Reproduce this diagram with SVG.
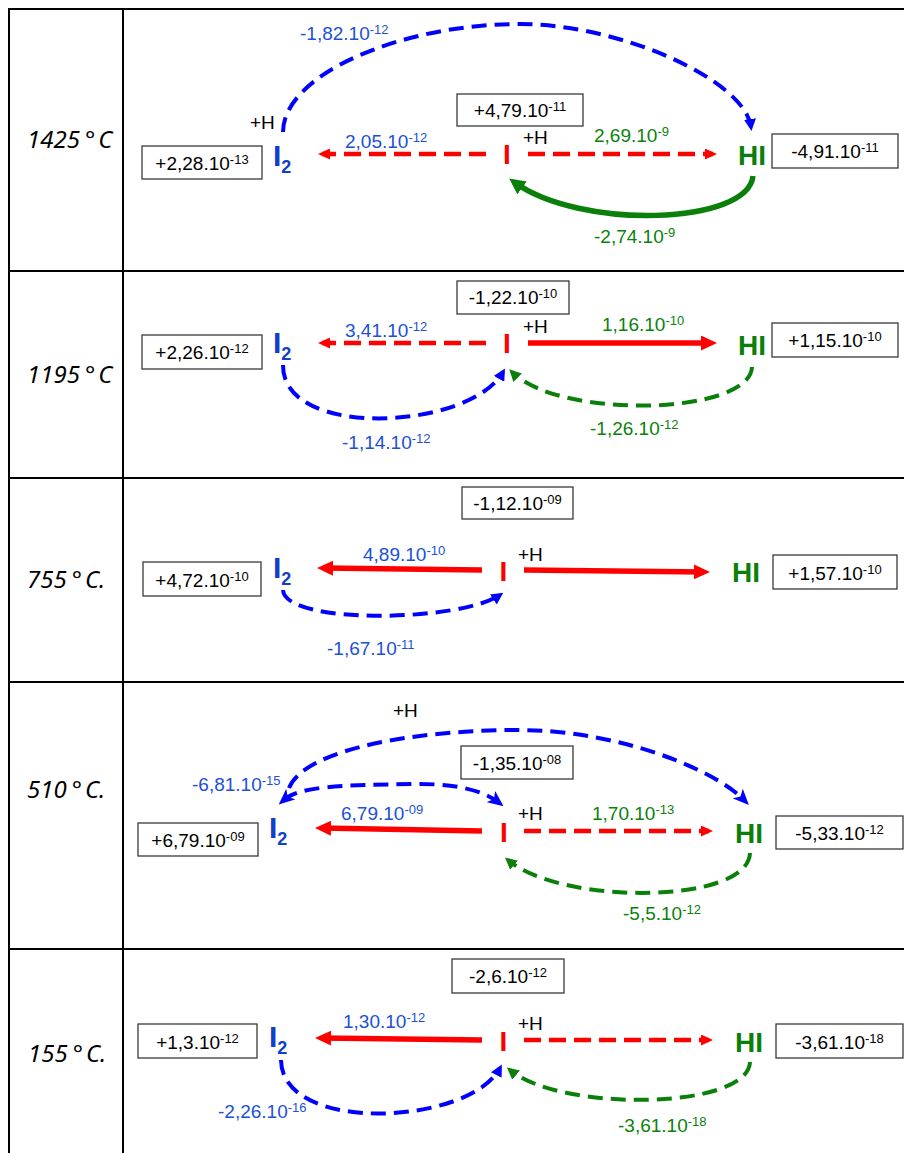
<svg xmlns="http://www.w3.org/2000/svg" width="904" height="1153" viewBox="0 0 904 1153">
<style>
.t{font-family:"Liberation Sans",Arial,sans-serif;font-size:19px}
.s{font-size:13px}
.temp{font-family:"Noto Sans","Open Sans",sans-serif;font-style:italic;font-size:24px;fill:#000}
.box{fill:#fff;stroke:#3a3a3a;stroke-width:1.3}
.blk{fill:#000}
.bl{fill:#2050d8}
.gr{fill:#0a820a}
.i2{font-family:"Liberation Sans",Arial,sans-serif;font-weight:bold;font-size:30px;fill:#1040c8}
.sub{font-size:18px}
.hi{font-family:"Liberation Sans",Arial,sans-serif;font-weight:bold;font-size:28px;fill:#0a800a}
.ri{font-family:"Liberation Sans",Arial,sans-serif;font-weight:bold;font-size:28px;fill:#ff0000}
.grid{stroke:#000;stroke-width:2;fill:none}
.bd{fill:none;stroke:#0000ff;stroke-width:4;stroke-dasharray:15 8}
.gd{fill:none;stroke:#0a800a;stroke-width:4;stroke-dasharray:15 8}
.gs{fill:none;stroke:#0a800a;stroke-width:5.5}
.rd{fill:none;stroke:#ff0000;stroke-width:4.5;stroke-dasharray:17 8}
.rs{fill:none;stroke:#ff0000;stroke-width:5.5}
</style>
<defs>
<marker id="mB" viewBox="0 0 12 12" markerWidth="12" markerHeight="12" refX="8" refY="6" orient="auto" markerUnits="userSpaceOnUse"><path d="M0,0 L12,6 L0,12 z" fill="#0000ff"/></marker>
<marker id="mBs" viewBox="0 0 16 14" markerWidth="16" markerHeight="14" refX="9" refY="7" orient="auto-start-reverse" markerUnits="userSpaceOnUse"><path d="M0,0 L16,7 L0,14 L4,7 z" fill="#0000ff"/></marker>
<marker id="mR" viewBox="0 0 12 11" markerWidth="12" markerHeight="11" refX="8" refY="5.5" orient="auto" markerUnits="userSpaceOnUse"><path d="M0,0 L12,5.5 L0,11 z" fill="#ff0000"/></marker>
<marker id="mRs" viewBox="0 0 16 15" markerWidth="16" markerHeight="15" refX="10" refY="7.5" orient="auto" markerUnits="userSpaceOnUse"><path d="M0,0 L16,7.5 L0,15 z" fill="#ff0000"/></marker>
<marker id="mG" viewBox="0 0 12 12" markerWidth="12" markerHeight="12" refX="8" refY="6" orient="auto" markerUnits="userSpaceOnUse"><path d="M0,0 L12,6 L0,12 z" fill="#0a800a"/></marker>
<marker id="mGs" viewBox="0 0 16 16" markerWidth="16" markerHeight="16" refX="10" refY="8" orient="auto" markerUnits="userSpaceOnUse"><path d="M0,0 L16,8 L0,16 z" fill="#0a800a"/></marker>
</defs>

<g id="table">
<line class="grid" x1="9" y1="8" x2="9" y2="1153"/>
<line class="grid" x1="123" y1="8" x2="123" y2="1153"/>
<line class="grid" x1="8" y1="9" x2="904" y2="9"/>
<line class="grid" x1="8" y1="271" x2="904" y2="271"/>
<line class="grid" x1="8" y1="478" x2="904" y2="478"/>
<line class="grid" x1="8" y1="682" x2="904" y2="682"/>
<line class="grid" x1="8" y1="949" x2="904" y2="949"/>
<text class="temp" x="27" y="148">1425<tspan dx="5">°</tspan><tspan dx="3">C</tspan></text>
<text class="temp" x="27" y="383">1195<tspan dx="5">°</tspan><tspan dx="3">C</tspan></text>
<text class="temp" x="27" y="588">755<tspan dx="5">°</tspan><tspan dx="3">C.</tspan></text>
<text class="temp" x="27" y="798">510<tspan dx="5">°</tspan><tspan dx="3">C.</tspan></text>
<text class="temp" x="28" y="1062">155<tspan dx="5">°</tspan><tspan dx="3">C.</tspan></text>
</g>

<g id="connectors">
<path class="bd" d="M283,132 C283,75 400,24 520,24 C620,24 745,80 751,127" marker-end="url(#mB)"/>
<path class="rd" d="M486,154 L322,154" marker-end="url(#mR)"/>
<path class="rd" d="M528,154 L713,154" marker-end="url(#mR)"/>
<path class="gs" d="M753,176 C748,225 580,230 514,182" marker-end="url(#mGs)"/>
<path class="rd" d="M486,343 L322,343" marker-end="url(#mR)"/>
<path class="rs" d="M528,343 L711,343" marker-end="url(#mRs)"/>
<path class="bd" d="M283,365 C282,440 470,430 503,372" marker-end="url(#mB)"/>
<path class="gd" d="M752,367 C750,415 560,420 512,372" marker-end="url(#mG)"/>
<path class="rs" d="M482,570 L323,568" marker-end="url(#mRs)"/>
<path class="rs" d="M524,570 L704,572" marker-end="url(#mRs)"/>
<path class="bd" d="M283,590 C285,625 460,622 500,595" marker-end="url(#mB)"/>
<path class="bd" d="M289,788 C305,748 420,730 517,730 C620,730 715,770 744,800" marker-end="url(#mBs)"/>
<path class="bd" d="M284,800 C300,786 340,785 420,784 C460,784 485,792 498,802" marker-start="url(#mBs)" marker-end="url(#mBs)"/>
<path class="rs" d="M482,831 L321,828" marker-end="url(#mRs)"/>
<path class="rd" d="M524,831 L709,831" marker-end="url(#mR)"/>
<path class="gd" d="M750,853 C748,905 560,905 508,860" marker-end="url(#mG)"/>
<path class="rs" d="M482,1040 L321,1038" marker-end="url(#mRs)"/>
<path class="rd" d="M524,1040 L709,1040" marker-end="url(#mR)"/>
<path class="bd" d="M281,1060 C282,1135 470,1125 500,1068" marker-end="url(#mB)"/>
<path class="gd" d="M750,1062 C748,1110 560,1112 510,1070" marker-end="url(#mG)"/>
</g>

<g id="labels">
<text class="t bl" x="300" y="40">-1,82.10<tspan class="s" dy="-6">-12</tspan></text>
<text class="t blk" x="250" y="129">+H</text>
<text class="t bl" x="345" y="148">2,05.10<tspan class="s" dy="-6">-12</tspan></text>
<text class="t blk" x="523" y="144">+H</text>
<text class="t gr" x="594" y="142">2,69.10<tspan class="s" dy="-6">-9</tspan></text>
<text class="t gr" x="594" y="243">-2,74.10<tspan class="s" dy="-6">-9</tspan></text>
<text class="t bl" x="345" y="337">3,41.10<tspan class="s" dy="-6">-12</tspan></text>
<text class="t bl" x="342" y="449">-1,14.10<tspan class="s" dy="-6">-12</tspan></text>
<text class="t blk" x="523" y="333">+H</text>
<text class="t gr" x="602" y="331">1,16.10<tspan class="s" dy="-6">-10</tspan></text>
<text class="t gr" x="590" y="435">-1,26.10<tspan class="s" dy="-6">-12</tspan></text>
<text class="t bl" x="363" y="561">4,89.10<tspan class="s" dy="-6">-10</tspan></text>
<text class="t bl" x="327" y="655">-1,67.10<tspan class="s" dy="-6">-11</tspan></text>
<text class="t blk" x="518" y="561">+H</text>
<text class="t blk" x="393" y="717">+H</text>
<text class="t bl" x="192" y="791">-6,81.10<tspan class="s" dy="-6">-15</tspan></text>
<text class="t bl" x="341" y="820">6,79.10<tspan class="s" dy="-6">-09</tspan></text>
<text class="t blk" x="518" y="820">+H</text>
<text class="t gr" x="592" y="820">1,70.10<tspan class="s" dy="-6">-13</tspan></text>
<text class="t gr" x="623" y="920">-5,5.10<tspan class="s" dy="-6">-12</tspan></text>
<text class="t bl" x="343" y="1028">1,30.10<tspan class="s" dy="-6">-12</tspan></text>
<text class="t bl" x="218" y="1118">-2,26.10<tspan class="s" dy="-6">-16</tspan></text>
<text class="t blk" x="518" y="1030">+H</text>
<text class="t gr" x="618" y="1132">-3,61.10<tspan class="s" dy="-6">-18</tspan></text>
</g>

<g id="r1-i2-box"><rect class="box" x="142" y="146" width="120" height="33"/><text class="t blk" x="202" y="170" text-anchor="middle">+2,28.10<tspan class="s" dy="-6">-13</tspan></text></g>
<g id="r1-i2"><text class="i2" x="273" y="166">I<tspan class="sub" dy="7">2</tspan></text></g>
<g id="r1-i-box"><rect class="box" x="457" y="94" width="126" height="32"/><text class="t blk" x="520" y="117" text-anchor="middle">+4,79.10<tspan class="s" dy="-6">-11</tspan></text></g>
<g id="r1-i"><text class="ri" x="507" y="164" text-anchor="middle">I</text></g>
<g id="r1-hi"><text class="hi" x="738" y="165">HI</text></g>
<g id="r1-hi-box"><rect class="box" x="772" y="134" width="126" height="34"/><text class="t blk" x="835" y="158" text-anchor="middle">-4,91.10<tspan class="s" dy="-6">-11</tspan></text></g>

<g id="r2-i2-box"><rect class="box" x="142" y="335" width="120" height="34"/><text class="t blk" x="202" y="359" text-anchor="middle">+2,26.10<tspan class="s" dy="-6">-12</tspan></text></g>
<g id="r2-i2"><text class="i2" x="273" y="353">I<tspan class="sub" dy="7">2</tspan></text></g>
<g id="r2-i-box"><rect class="box" x="457" y="281" width="112" height="33"/><text class="t blk" x="513" y="304" text-anchor="middle">-1,22.10<tspan class="s" dy="-6">-10</tspan></text></g>
<g id="r2-i"><text class="ri" x="507" y="353" text-anchor="middle">I</text></g>
<g id="r2-hi"><text class="hi" x="738" y="355">HI</text></g>
<g id="r2-hi-box"><rect class="box" x="772" y="323" width="126" height="34"/><text class="t blk" x="835" y="347" text-anchor="middle">+1,15.10<tspan class="s" dy="-6">-10</tspan></text></g>

<g id="r3-i2-box"><rect class="box" x="143" y="562" width="118" height="34"/><text class="t blk" x="202" y="587" text-anchor="middle">+4,72.10<tspan class="s" dy="-6">-10</tspan></text></g>
<g id="r3-i2"><text class="i2" x="273" y="578">I<tspan class="sub" dy="7">2</tspan></text></g>
<g id="r3-i-box"><rect class="box" x="462" y="487" width="111" height="32"/><text class="t blk" x="517.5" y="510" text-anchor="middle">-1,12.10<tspan class="s" dy="-6">-09</tspan></text></g>
<g id="r3-i"><text class="ri" x="503.5" y="581" text-anchor="middle">I</text></g>
<g id="r3-hi"><text class="hi" x="732" y="582">HI</text></g>
<g id="r3-hi-box"><rect class="box" x="773" y="555" width="124" height="34"/><text class="t blk" x="835" y="580" text-anchor="middle">+1,57.10<tspan class="s" dy="-6">-10</tspan></text></g>

<g id="r4-i2-box"><rect class="box" x="138" y="823" width="120" height="33"/><text class="t blk" x="198" y="847" text-anchor="middle">+6,79.10<tspan class="s" dy="-6">-09</tspan></text></g>
<g id="r4-i2"><text class="i2" x="269" y="838">I<tspan class="sub" dy="7">2</tspan></text></g>
<g id="r4-i-box"><rect class="box" x="461" y="746" width="112" height="33"/><text class="t blk" x="517" y="770" text-anchor="middle">-1,35.10<tspan class="s" dy="-6">-08</tspan></text></g>
<g id="r4-i"><text class="ri" x="504" y="842" text-anchor="middle">I</text></g>
<g id="r4-hi"><text class="hi" x="735" y="843">HI</text></g>
<g id="r4-hi-box"><rect class="box" x="776" y="816" width="127" height="33"/><text class="t blk" x="839.5" y="840" text-anchor="middle">-5,33.10<tspan class="s" dy="-6">-12</tspan></text></g>

<g id="r5-i2-box"><rect class="box" x="138" y="1024" width="119" height="34"/><text class="t blk" x="197.5" y="1049" text-anchor="middle">+1,3.10<tspan class="s" dy="-6">-12</tspan></text></g>
<g id="r5-i2"><text class="i2" x="269" y="1047">I<tspan class="sub" dy="7">2</tspan></text></g>
<g id="r5-i-box"><rect class="box" x="452" y="959" width="112" height="34"/><text class="t blk" x="508" y="983" text-anchor="middle">-2,6.10<tspan class="s" dy="-6">-12</tspan></text></g>
<g id="r5-i"><text class="ri" x="503.5" y="1051" text-anchor="middle">I</text></g>
<g id="r5-hi"><text class="hi" x="735" y="1052">HI</text></g>
<g id="r5-hi-box"><rect class="box" x="776" y="1024" width="127" height="34"/><text class="t blk" x="839.5" y="1049" text-anchor="middle">-3,61.10<tspan class="s" dy="-6">-18</tspan></text></g>
</svg>
